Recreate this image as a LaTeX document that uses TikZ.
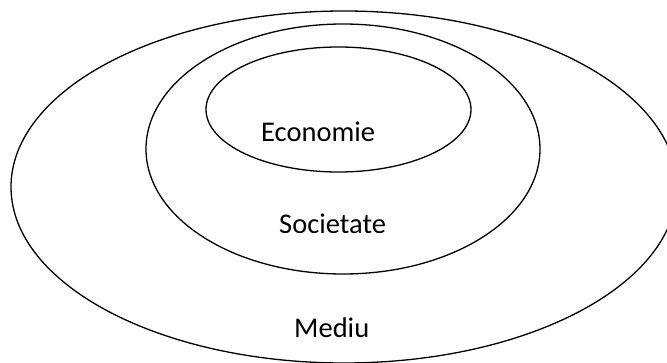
\documentclass[tikz,border=0pt]{standalone}
\usepackage{fontspec}
\setmainfont{Carlito}
\begin{document}
\begin{tikzpicture}[x=1pt,y=1pt,
  ring/.style={draw=black,line width=1.3pt},
  lbl/.style={inner sep=0pt,anchor=base west,font=\fontsize{28.5}{30}\selectfont}]
\useasboundingbox (0,0) rectangle (667,362);
\clip (0,0) rectangle (667,362);
\fill[white] (0,0) rectangle (667,362);
\draw[ring] (344,175) ellipse [x radius=333, y radius=176];
\draw[ring] (343,213) ellipse [x radius=197, y radius=125];
\draw[ring] (338.5,252.5) ellipse [x radius=132.5, y radius=62.5];
\node[lbl] (eco) at (261,220) {Economie};
\begin{scope}
  \clip (200,130) rectangle (460,160);
  \node[lbl] (soc) at (279,128.6) {Societate};
\end{scope}
\node[lbl] (med) at (294,25) {Mediu};
\end{tikzpicture}
\end{document}
